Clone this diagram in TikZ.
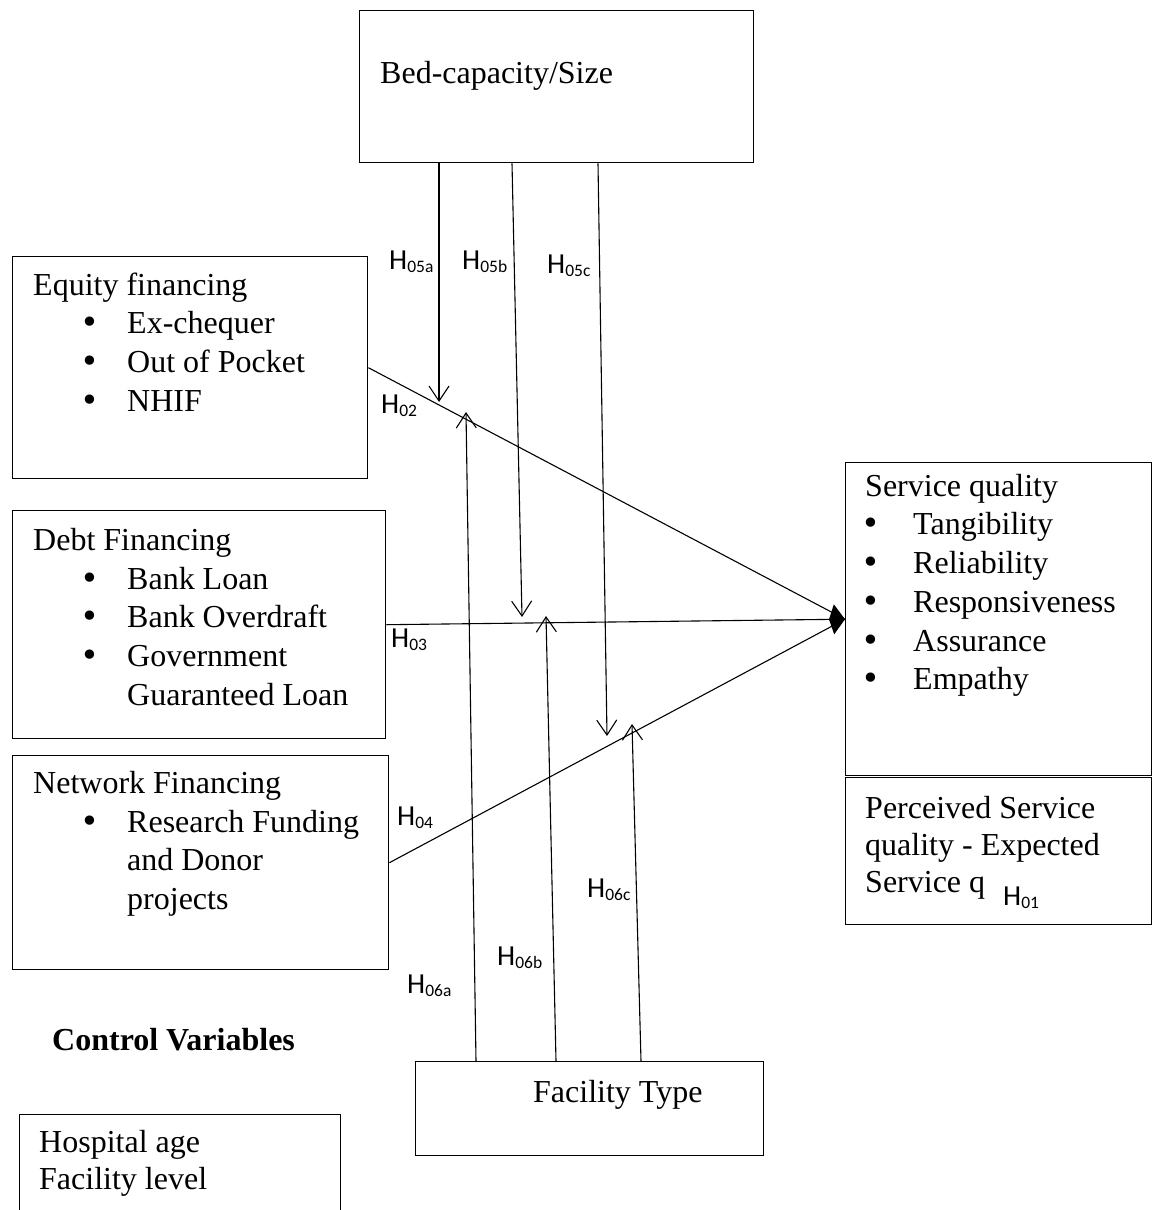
\documentclass[tikz,border=0pt]{standalone}
\usepackage{fontspec}
\setmainfont{Liberation Serif}
\newfontfamily\hfont{Carlito}
\newfontfamily\symfont{DejaVu Sans}
\usetikzlibrary{arrows.meta,calc,positioning}

\newcommand{\boxfont}{\fontsize{32}{38.7}\selectfont}
\newcommand{\hyp}[1]{H\raisebox{-3.5pt}{\fontsize{17.5}{20}\selectfont #1}}
\newcommand{\bigdot}{{\symfont •}}
\newcommand{\bul}[1]{\hspace*{47pt}\makebox[47pt][l]{\bigdot}#1}
\newcommand{\sbul}[1]{\hspace*{-4pt}\makebox[52pt][l]{\bigdot}#1}

\tikzset{
  frame/.style={draw, line width=1.4pt, inner sep=0pt, anchor=north west},
  txt/.style={anchor=north west, inner sep=0pt, align=left, font=\boxfont},
  hlab/.style={anchor=base west, inner sep=0pt, font=\hfont\fontsize{29}{34}\selectfont},
  link/.style={line width=1.1pt},
  barb/.style={link, -{Straight Barb[length=15pt,width=20pt]}},
}

\begin{document}
\begin{tikzpicture}[x=1pt,y=-1pt]
    \useasboundingbox (0,0) rectangle (1153,1210);
    % Boxes
    \node[frame, minimum width=394pt, minimum height=152pt] (bed) at (359,10) {};
    \node[frame, minimum width=355pt, minimum height=222pt] (equity) at (12,256) {};
    \node[frame, minimum width=373pt, minimum height=228pt] (debt) at (12,510) {};
    \node[frame, minimum width=376pt, minimum height=214pt] (network) at (12,755) {};
    \node[frame, minimum width=306pt, minimum height=313pt] (service) at (845,462) {};
    \node[frame, minimum width=306pt, minimum height=147pt] (perceived) at (845,777) {};
    \node[frame, minimum width=348pt, minimum height=94pt] (facility) at (415,1061) {};
    \begin{scope}
        \clip (0,0) rectangle (1153,1210);
        \node[frame, minimum width=321pt, minimum height=150pt] (hospital) at (19,1114) {};
    \end{scope}

    % Box texts
    \node[txt] (bedtxt) at (380,56) {\strut Bed-capacity/Size};
    \node[txt] (equitytxt) at (33,268) {\strut Equity financing\\
        \bul{Ex-chequer}\\ \bul{Out of Pocket}\\ \bul{NHIF}};
    \node[txt] (debttxt) at (33,523) {\strut Debt Financing\\
        \bul{Bank Loan}\\ \bul{Bank Overdraft}\\ \bul{Government}\\
        \hspace*{94pt}Guaranteed Loan};
    \node[txt] (networktxt) at (33,766) {\strut Network Financing\\
        \bul{Research Funding}\\ \hspace*{94pt}and Donor\\ \hspace*{94pt}projects};
    \node[txt] (servicetxt) at (865,469) {\strut Service quality\\
        \sbul{Tangibility}\\ \sbul{Reliability}\\ \sbul{Responsiveness}\\
        \sbul{Assurance}\\ \sbul{Empathy}};
    \node[txt, font=\fontsize{32}{37}\selectfont] (perceivedtxt) at (865,792)
        {\strut Perceived Service\\ quality - Expected\\ Service q};
    \node[anchor=base west, inner sep=0pt, font=\boxfont\bfseries] (ctrl) at (52,1050) {Control Variables};
    \node[anchor=base west, inner sep=0pt, font=\boxfont] (factxt) at (533,1102) {Facility Type};
    \node[txt, font=\fontsize{32}{37}\selectfont] (hosptxt) at (39,1126)
        {\strut Hospital age\\ Facility level};

    % Arrow tips of the moderating paths
    \coordinate (t5a) at (439,402);
    \coordinate (t5b) at (522,617);
    \coordinate (t5c) at (607,736);
    \coordinate (t6a) at (466,412);
    \coordinate (t6b) at (546,616);
    \coordinate (t6c) at (632,724);

    % Direct paths
    \draw[link] (equity.east) -- (service.west);
    \draw[link, -{Kite[length=16pt,width=30pt,inset=5pt]}] (debt.east) -- (service.west);
    \draw[link] (network.east) -- (service.west);

    % Moderating paths
    \draw[barb] (bed.south -| t5a) -- (t5a);
    \draw[barb] ([xshift=153pt]bed.south west) -- (t5b);
    \draw[barb] ([xshift=239pt]bed.south west) -- (t5c);
    \draw[barb] ([xshift=61pt]facility.north west) -- (t6a);
    \draw[barb] ([xshift=141pt]facility.north west) -- (t6b);
    \draw[barb] ([xshift=226pt]facility.north west) -- (t6c);

    % Labels
    \node[hlab] (h05a) at (389,269) {\hyp{05a}};
    \node[hlab] (h05b) at (462,269) {\hyp{05b}};
    \node[hlab] (h05c) at (547,273) {\hyp{05c}};
    \node[hlab] (h02) at (381,413) {\hyp{02}};
    \node[hlab] (h03) at (391,647) {\hyp{03}};
    \node[hlab] (h04) at (397,825) {\hyp{04}};
    \node[hlab] (h06a) at (407,993) {\hyp{06a}};
    \node[hlab] (h06b) at (497,965) {\hyp{06b}};
    \node[hlab] (h06c) at (587,897) {\hyp{06c}};
    \node[hlab] (h01) at (1003,905) {\hyp{01}};
\end{tikzpicture}
\end{document}
